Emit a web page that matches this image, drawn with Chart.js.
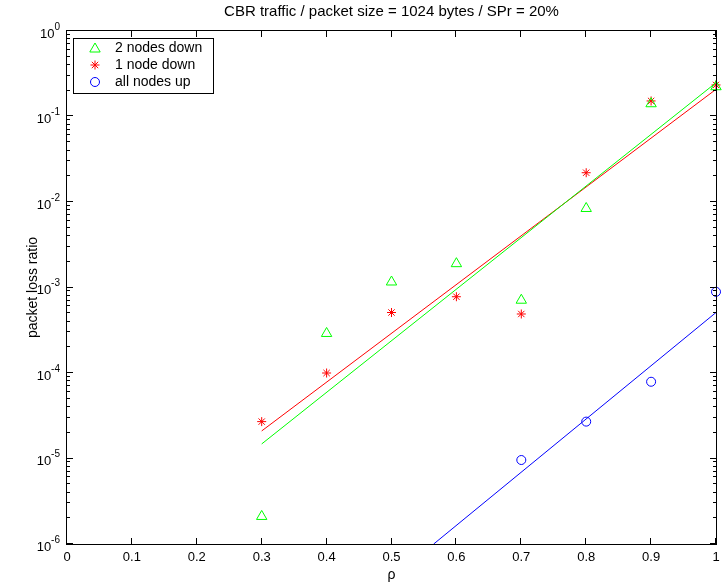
<!DOCTYPE html>
<html>
<head>
<meta charset="utf-8">
<script src="https://cdn.jsdelivr.net/npm/chart.js@4.4.0/dist/chart.umd.min.js"></script>
<style>
  html, body { margin: 0; padding: 0; background: #ffffff; overflow: hidden; }
  #wrap { width: 723px; height: 585px; }
  canvas { display: block; }
</style>
</head>
<body>
<div id="wrap"><canvas id="loss_chart" width="723" height="585"></canvas></div>
<script>
// values (rho vs packet loss ratio)
const rho = [0.3, 0.4, 0.5, 0.6, 0.7, 0.8, 0.9, 1.0];
const twoNodesDown = [2.1e-6, 2.9e-4, 1.16e-3, 1.9e-3, 7.1e-4, 8.4e-3, 0.141, 0.223];
const oneNodeDown = [2.7e-5, 1.0e-4, 5.1e-4, 7.8e-4, 4.9e-4, 2.2e-2, 0.152, 0.234];
const rhoUp = [0.7, 0.8, 0.9, 1.0];
const allNodesUp = [9.6e-6, 2.7e-5, 7.9e-5, 8.9e-4];

// fitted lines, end points
const fitRho = [0.3, 1.0];
const fitTwoDown = [1.48e-5, 0.248];
const fitOneDown = [2.1e-5, 0.208];
const fitRhoUp = [0.565, 1.0];
const fitAllUp = [1e-6, 5.1e-4];

const chartTitle = "CBR traffic / packet size = 1024 bytes / SPr = 20%";
const seriesNames = ["2 nodes down", "1 node down", "all nodes up"];
const xTicks = [0, 0.1, 0.2, 0.3, 0.4, 0.5, 0.6, 0.7, 0.8, 0.9, 1];
const yDecades = [0, -1, -2, -3, -4, -5, -6];

const FONT = "'Liberation Sans', Arial, Helvetica, sans-serif";
const GREEN = "#00ff00";
const RED = "#ff0000";
const BLUE = "#0000ff";

const toPoints = (xs, ys) => xs.map((x, i) => ({ x: x, y: ys[i] }));

// same shapes as chart.js point styles, for the legend box
const drawMarker = (ctx, style, x, y, r, color) => {
  ctx.save();
  ctx.strokeStyle = color;
  ctx.lineWidth = 1;
  ctx.beginPath();
  if (style === "triangle") {
    let rad = 0;
    ctx.moveTo(x + Math.sin(rad) * r, y - Math.cos(rad) * r);
    rad += (2 * Math.PI) / 3;
    ctx.lineTo(x + Math.sin(rad) * r, y - Math.cos(rad) * r);
    rad += (2 * Math.PI) / 3;
    ctx.lineTo(x + Math.sin(rad) * r, y - Math.cos(rad) * r);
    ctx.closePath();
  } else if (style === "star") {
    const d = Math.cos(Math.PI / 4) * r;
    ctx.moveTo(x - r, y);
    ctx.lineTo(x + r, y);
    ctx.moveTo(x, y - r);
    ctx.lineTo(x, y + r);
    ctx.moveTo(x - d, y - d);
    ctx.lineTo(x + d, y + d);
    ctx.moveTo(x - d, y + d);
    ctx.lineTo(x + d, y - d);
  } else {
    ctx.arc(x, y, r, 0, Math.PI * 2);
  }
  ctx.stroke();
  ctx.restore();
};

const matlabAxes = {
  id: "matlabAxes",
  afterDraw(chart) {
    const { ctx, chartArea } = chart;
    const xs = chart.scales.x;
    const ys = chart.scales.y;
    const { left, right, top, bottom } = chartArea;

    ctx.save();
    ctx.strokeStyle = "#000000";
    ctx.lineWidth = 1;

    // box
    ctx.strokeRect(Math.round(left) - 0.5, Math.round(top) - 0.5,
      Math.round(right - left) + 1, Math.round(bottom - top) + 1);

    // x ticks, inside, bottom and top
    ctx.beginPath();
    xTicks.forEach((v) => {
      const px = Math.round(xs.getPixelForValue(v)) - 0.5;
      ctx.moveTo(px, bottom);
      ctx.lineTo(px, bottom - 6);
      ctx.moveTo(px, top);
      ctx.lineTo(px, top + 6);
    });

    // y ticks, major and minor, left and right
    yDecades.forEach((e) => {
      const py = Math.round(ys.getPixelForValue(Math.pow(10, e))) - 0.5;
      ctx.moveTo(left, py);
      ctx.lineTo(left + 6, py);
      ctx.moveTo(right, py);
      ctx.lineTo(right - 6, py);
      if (e < 0) {
        for (let m = 2; m <= 9; m++) {
          const pm = Math.round(ys.getPixelForValue(m * Math.pow(10, e))) - 0.5;
          ctx.moveTo(left, pm);
          ctx.lineTo(left + 3, pm);
          ctx.moveTo(right, pm);
          ctx.lineTo(right - 3, pm);
        }
      }
    });
    ctx.stroke();

    // title, centred over the axes
    ctx.fillStyle = "#000000";
    ctx.font = "15px " + FONT;
    ctx.textAlign = "center";
    ctx.textBaseline = "middle";
    ctx.fillText(chartTitle, (left + right) / 2, 12);

    // y tick labels 10^e
    yDecades.forEach((e) => {
      const py = ys.getPixelForValue(Math.pow(10, e));
      const expText = e === 0 ? "0" : "-" + Math.abs(e);
      ctx.font = "10px " + FONT;
      const expW = ctx.measureText(expText).width;
      const xEnd = left - 7;
      ctx.textAlign = "left";
      ctx.fillText(expText, xEnd - expW, py - 4);
      ctx.font = "13px " + FONT;
      ctx.textAlign = "right";
      ctx.fillText("10", xEnd - expW, py + 3);
    });

    // legend box
    const lx = 73.5, ly = 38.5, lw = 140, lh = 55;
    ctx.fillStyle = "#ffffff";
    ctx.fillRect(lx, ly, lw, lh);
    ctx.strokeRect(lx, ly, lw, lh);
    const styles = ["triangle", "star", "circle"];
    const sizes = [6, 4.5, 4.5];
    const colors = [GREEN, RED, BLUE];
    ctx.font = "14px " + FONT;
    ctx.textAlign = "left";
    ctx.textBaseline = "middle";
    seriesNames.forEach((name, i) => {
      const ry = 48 + i * 17;
      drawMarker(ctx, styles[i], 95, ry + (i === 0 ? 1 : 0), sizes[i], colors[i]);
      ctx.fillStyle = "#000000";
      ctx.fillText(name, 115, ry);
    });
    ctx.restore();
  },
};

new Chart(document.getElementById("loss_chart"), {
  type: "scatter",
  data: {
    datasets: [
      {
        label: seriesNames[0],
        data: toPoints(rho, twoNodesDown),
        pointStyle: "triangle",
        pointRadius: 6,
        borderColor: GREEN,
        backgroundColor: "rgba(0,0,0,0)",
        borderWidth: 1,
        showLine: false,
        clip: false,
      },
      {
        label: seriesNames[1],
        data: toPoints(rho, oneNodeDown),
        pointStyle: "star",
        pointRadius: 4.5,
        borderColor: RED,
        backgroundColor: RED,
        borderWidth: 1,
        showLine: false,
        clip: false,
      },
      {
        label: seriesNames[2],
        data: toPoints(rhoUp, allNodesUp),
        pointStyle: "circle",
        pointRadius: 4.5,
        borderColor: BLUE,
        backgroundColor: "rgba(0,0,0,0)",
        borderWidth: 1,
        showLine: false,
        clip: false,
      },
      {
        label: "fit 2 nodes down",
        data: toPoints(fitRho, fitTwoDown),
        showLine: true,
        pointRadius: 0,
        borderColor: GREEN,
        borderWidth: 1,
      },
      {
        label: "fit 1 node down",
        data: toPoints(fitRho, fitOneDown),
        showLine: true,
        pointRadius: 0,
        borderColor: RED,
        borderWidth: 1,
      },
      {
        label: "fit all nodes up",
        data: toPoints(fitRhoUp, fitAllUp),
        showLine: true,
        pointRadius: 0,
        borderColor: BLUE,
        borderWidth: 1,
      },
    ],
  },
  options: {
    responsive: false,
    animation: false,
    events: [],
    layout: { padding: { left: 0, right: 6, top: 31, bottom: 0 } },
    scales: {
      x: {
        type: "linear",
        min: 0,
        max: 1,
        afterBuildTicks: (scale) => {
          scale.ticks = xTicks.map((v) => ({ value: v }));
        },
        ticks: {
          color: "#000000",
          padding: 6,
          maxRotation: 0,
          font: { family: FONT, size: 13 },
          callback: (v) => String(Number(v.toFixed(1))),
        },
        grid: { display: false, drawTicks: false },
        border: { display: false },
        title: {
          display: true,
          text: "ρ",
          color: "#000000",
          font: { family: FONT, size: 14 },
          padding: { top: 0, bottom: 1 },
        },
        afterFit: (scale) => {
          scale.height = 41;
          scale.paddingLeft = 0;
          scale.paddingRight = 0;
        },
      },
      y: {
        type: "logarithmic",
        min: 1e-6,
        max: 1,
        ticks: { display: false },
        grid: { display: false, drawTicks: false },
        border: { display: false },
        title: {
          display: true,
          text: "packet loss ratio",
          color: "#000000",
          font: { family: FONT, size: 14 },
          padding: { top: 25, bottom: 0 },
        },
        afterFit: (scale) => {
          scale.width = 67;
          scale.paddingTop = 0;
          scale.paddingBottom = 0;
        },
      },
    },
    plugins: {
      legend: { display: false },
      tooltip: { enabled: false },
      title: { display: false },
    },
  },
  plugins: [matlabAxes],
});
</script>
</body>
</html>
